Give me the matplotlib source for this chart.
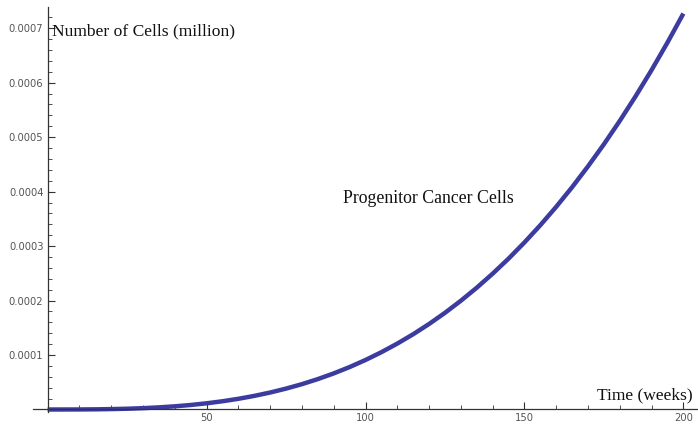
import matplotlib
matplotlib.use("Agg")
import matplotlib.pyplot as plt
from matplotlib.ticker import MultipleLocator, FixedLocator

weeks = [0, 5, 10, 15, 20, 25, 30, 35, 40, 45, 50, 55, 60, 65, 70, 75, 80, 85, 90, 95,
         100, 105, 110, 115, 120, 125, 130, 135, 140, 145, 150, 155, 160, 165, 170, 175,
         180, 185, 190, 195, 200]
cells = [0.0, 1.1e-8, 9.1e-8, 3.07e-7, 7.27e-7, 1.42e-6, 2.45e-6, 3.90e-6, 5.82e-6, 8.28e-6,
         1.136e-5, 1.512e-5, 1.963e-5, 2.496e-5, 3.117e-5, 3.834e-5, 4.653e-5, 5.581e-5,
         6.625e-5, 7.791e-5, 9.09e-5, 1.052e-4, 1.210e-4, 1.382e-4, 1.570e-4, 1.775e-4,
         1.997e-4, 2.236e-4, 2.494e-4, 2.770e-4, 3.067e-4, 3.384e-4, 3.722e-4, 4.082e-4,
         4.465e-4, 4.870e-4, 5.300e-4, 5.754e-4, 6.233e-4, 6.738e-4, 7.27e-4]
x_ticks = [50, 100, 150, 200]
y_ticks = [0.0001, 0.0002, 0.0003, 0.0004, 0.0005, 0.0006, 0.0007]
y_ticklabels = ["0.0001", "0.0002", "0.0003", "0.0004", "0.0005", "0.0006", "0.0007"]

fig = plt.figure(figsize=(6.98, 4.24), dpi=100)
# x axis from pixel 33 to 698, y axis from pixel 7 (top) to 412 (bottom)
ax = fig.add_axes([33/698, (424-412)/424, 1 - 33/698, (412-7)/424])
ax.set_xlim(-4.6, 204.6)
ax.set_ylim(-0.0000046, 0.000739)

ax.plot(weeks, cells, color="#3c3ca0", lw=3.2, solid_capstyle="butt", clip_on=False)

for s in ["top", "right"]:
    ax.spines[s].set_visible(False)
ax.spines["left"].set_position(("data", 0))
ax.spines["bottom"].set_position(("data", 0))
for s in ["left", "bottom"]:
    ax.spines[s].set_color("#333333")
    ax.spines[s].set_linewidth(0.9)

ax.xaxis.set_major_locator(FixedLocator(x_ticks))
ax.xaxis.set_minor_locator(MultipleLocator(10))
ax.set_xticklabels([str(v) for v in x_ticks])
ax.yaxis.set_major_locator(FixedLocator(y_ticks))
ax.yaxis.set_minor_locator(MultipleLocator(0.00002))
ax.set_yticklabels(y_ticklabels)

ax.tick_params(axis="both", which="major", direction="in", length=5, width=0.8,
               color="#333333", labelsize=7.2, labelcolor="#555555")
ax.tick_params(axis="x", which="major", pad=2.5)
ax.tick_params(axis="y", which="major", pad=3)
ax.tick_params(axis="both", which="minor", direction="in", length=3, width=0.6,
               color="#333333")

serif = ["Liberation Serif", "DejaVu Serif"]
fig.text(52/698, 1 - 31/424, "Number of Cells (million)", family=serif, fontsize=12.6,
         ha="left", va="center", color="#111111")
fig.text(693/698, 1 - 395/424, "Time (weeks)", family=serif, fontsize=12.6,
         ha="right", va="center", color="#111111")
fig.text(428/698, 1 - 198/424, "Progenitor Cancer Cells", family=serif, fontsize=12.8,
         ha="center", va="center", color="#111111")

fig.savefig("out.png", dpi=100)
